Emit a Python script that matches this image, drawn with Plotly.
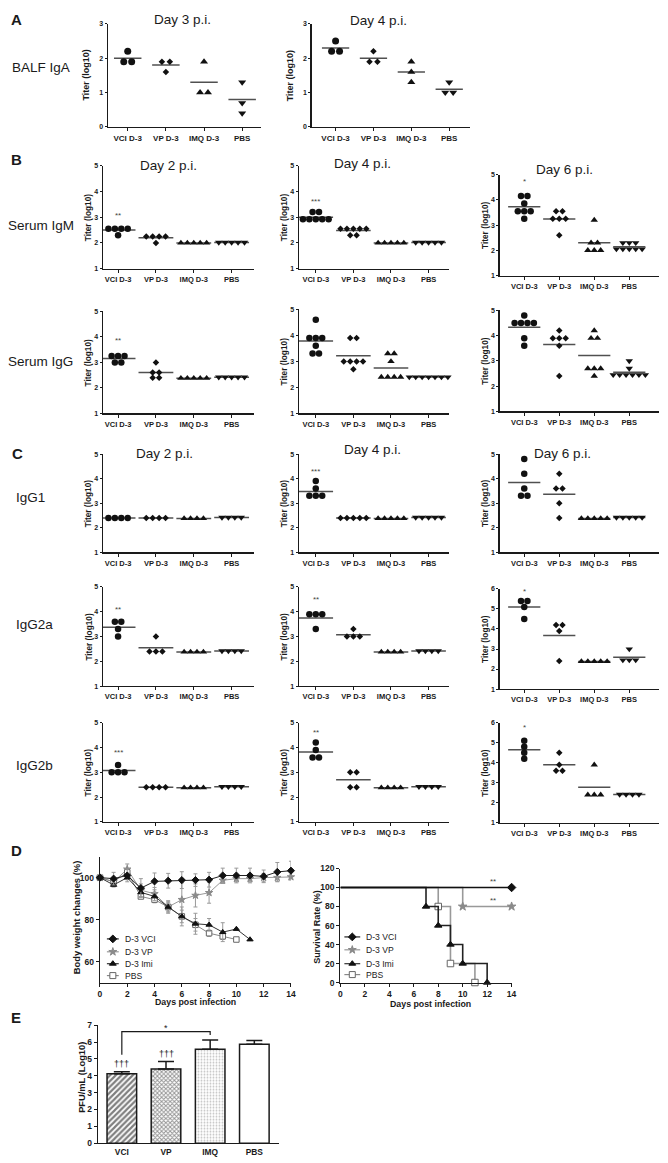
import numpy as np
import plotly.graph_objects as go

W, H = 668, 1163
SANS = "Liberation Sans, Arial, Helvetica, sans-serif"
INK = "#1a1a1a"

# ---------------- data ----------------
GROUPS = ["VCI D-3", "VP D-3", "IMQ D-3", "PBS"]
SYMBOLS = ["circle", "diamond", "triangle-up", "triangle-down"]

# A: BALF IgA titer (log10)
BALF_D3 = [[2.2, 1.9, 1.9], [1.9, 1.9, 1.6], [1.9, 1.0, 1.0], [1.3, 0.7, 0.4]]
BALF_D4 = [[2.5, 2.2, 2.2], [2.2, 1.9, 1.9], [1.9, 1.6, 1.3], [1.3, 1.0, 1.0]]

# B: serum IgM / IgG titer (log10)
IGM_D2 = [[2.55, 2.55, 2.55, 2.55, 2.3], [2.25, 2.25, 2.25, 2.25, 2.0],
          [2.0, 2.0, 2.0, 2.0, 2.0], [2.02, 2.02, 2.02, 2.02, 2.02]]
IGM_D4 = [[3.2, 3.2, 2.92, 2.92, 2.92, 2.92, 2.92], [2.55, 2.55, 2.55, 2.55, 2.55, 2.3, 2.3],
          [2.0, 2.0, 2.0, 2.0, 2.0], [2.02, 2.02, 2.02, 2.02, 2.02]]
IGM_D6 = [[4.15, 4.15, 3.85, 3.55, 3.55, 3.55, 3.25], [3.55, 3.55, 3.25, 3.25, 3.25, 2.6],
          [3.2, 2.3, 2.3, 2.0, 2.0, 2.0], [2.3, 2.3, 2.3, 2.05, 2.05, 2.05, 2.05, 2.05]]
IGG_D2 = [[3.25, 3.25, 3.25, 3.0, 3.0], [3.0, 2.6, 2.6, 2.4, 2.4],
          [2.38, 2.38, 2.38, 2.38, 2.38], [2.42, 2.42, 2.42, 2.42, 2.42]]
IGG_D4 = [[4.6, 3.9, 3.9, 3.9, 3.6, 3.3, 3.3], [3.9, 3.9, 3.0, 3.0, 3.0, 3.0, 2.7],
          [3.3, 3.3, 3.0, 2.4, 2.4, 2.4, 2.4], [2.4, 2.4, 2.4, 2.4, 2.4, 2.4, 2.4]]
IGG_D6 = [[4.8, 4.5, 4.5, 4.5, 4.5, 3.9, 3.6], [4.2, 3.9, 3.9, 3.9, 3.6, 2.4],
          [4.2, 3.9, 3.9, 2.7, 2.7, 2.7, 2.4], [3.0, 2.7, 2.45, 2.45, 2.45, 2.45, 2.45, 2.45]]

# C: IgG subclasses titer (log10)
IGG1_D2 = [[2.4, 2.4, 2.4, 2.4], [2.4, 2.4, 2.4, 2.4], [2.38, 2.38, 2.38, 2.38], [2.42, 2.42, 2.42, 2.42]]
IGG1_D4 = [[3.9, 3.6, 3.3, 3.3, 3.3], [2.4, 2.4, 2.4, 2.4, 2.4],
           [2.38, 2.38, 2.38, 2.38, 2.38], [2.42, 2.42, 2.42, 2.42, 2.42]]
IGG1_D6 = [[4.8, 4.2, 3.6, 3.3, 3.3], [4.2, 3.6, 3.6, 3.0, 2.4],
           [2.38, 2.38, 2.38, 2.38, 2.38], [2.42, 2.42, 2.42, 2.42, 2.42]]
IGG2A_D2 = [[3.6, 3.6, 3.3, 3.0], [3.0, 2.4, 2.4, 2.4], [2.38, 2.38, 2.38, 2.38], [2.42, 2.42, 2.42, 2.42]]
IGG2A_D4 = [[3.9, 3.9, 3.9, 3.3], [3.3, 3.0, 3.0, 3.0], [2.38, 2.38, 2.38, 2.38], [2.42, 2.42, 2.42, 2.42]]
IGG2A_D6 = [[5.4, 5.4, 5.1, 4.5], [4.2, 4.2, 3.9, 2.4], [2.38, 2.38, 2.38, 2.38, 2.38], [3.0, 2.45, 2.45, 2.45]]
IGG2B_D2 = [[3.3, 3.0, 3.0, 3.0], [2.4, 2.4, 2.4, 2.4], [2.38, 2.38, 2.38, 2.38], [2.42, 2.42, 2.42, 2.42]]
IGG2B_D4 = [[4.2, 3.9, 3.6, 3.6], [3.0, 3.0, 2.4, 2.4], [2.38, 2.38, 2.38, 2.38], [2.42, 2.42, 2.42, 2.42]]
IGG2B_D6 = [[5.1, 4.8, 4.5, 4.2], [4.5, 3.9, 3.6, 3.6], [3.9, 2.4, 2.4, 2.4], [2.42, 2.42, 2.42, 2.42]]

# significance marks above the VCI group (text, titer level)
IGM_SIG = [("**", 3.05), ("***", 3.62), ("*", 4.72)]
IGG_SIG = [("**", 3.85), ("*", 5.05), ("*", 5.1)]
IGG1_SIG = [None, ("***", 4.3), None]
IGG2A_SIG = [("**", 4.1), ("**", 4.5), ("*", 5.85)]
IGG2B_SIG = [("***", 3.8), ("**", 4.6), ("*", 5.75)]

# D: body weight (%) mean and SD
BW_DAYS = [0, 1, 2, 3, 4, 5, 6, 7, 8, 9, 10, 11, 12, 13, 14]
BW_VCI = [100, 99.5, 101, 95, 98.2, 98.5, 98.8, 98.8, 99, 101, 101, 101, 100.6, 102.7, 103.3]
BW_VCI_SD = [0, 3, 3, 4.5, 4, 3.5, 4, 3, 3.5, 3.5, 3.5, 3.5, 3, 4.5, 4.5]
BW_VP = [100, 98, 104, 94, 92.3, 86, 89.5, 91.5, 92.8, 98.7, 99.5, 99.5, 100, 100, 100.3]
BW_VP_SD = [0, 2, 2.5, 3, 3, 3, 8, 5.5, 5, 1.5, 1.5, 1.5, 2, 2, 1]
BW_IMI = [100, 96.5, 100, 93, 91, 86, 81.5, 78, 77.5, 74, 75.5, 70.5]
BW_IMI_SD = [0, 1, 1, 2, 2, 2.5, 4.5, 5, 3, 4.5, 0, 0]
BW_PBS = [100, 98, 102.5, 91, 89.5, 86, 81.5, 77.5, 73.5, 72, 70.5]
BW_PBS_SD = [0, 1, 1, 1, 1.5, 2, 3, 3, 1.5, 1.5, 0]

# D: survival (%)
SV_VCI_T, SV_VCI_S = [0, 14], [100, 100]
SV_VP_T, SV_VP_S = [0, 10, 14], [100, 80, 80]
SV_IMI_T, SV_IMI_S = [0, 7, 8, 9, 10, 12], [100, 80, 60, 40, 20, 0]
SV_PBS_T, SV_PBS_S = [0, 8, 9, 11], [100, 80, 20, 0]
SV_SIG = [("**", 12.5, 106), ("**", 12.5, 86)]
LEG_LABELS = ["D-3 VCI", "D-3 VP", "D-3 Imi", "PBS"]

# E: lung virus titer
E_GROUPS = ["VCI", "VP", "IMQ", "PBS"]
E_MEAN = [4.12, 4.4, 5.57, 5.87]
E_ERR = [0.12, 0.45, 0.55, 0.22]

# ---------------- helpers ----------------
fig = go.Figure()
layout = {}
ann = []
counter = [0]


def px(x):
    return x / W


def py(y):
    return 1 - y / H


def make_axes(x0, x1, ytop, ybot, xr, yr, xkw=None, ykw=None):
    counter[0] += 1
    n = counter[0]
    s = "" if n == 1 else str(n)
    base = dict(showline=True, linecolor=INK, linewidth=1.3, ticks="outside", ticklen=3,
                tickwidth=1, tickcolor=INK, showgrid=False, zeroline=False, fixedrange=True,
                tickfont=dict(family=SANS, size=7.5, color=INK, weight="bold"))
    xd = dict(base, domain=[px(x0), px(x1)], range=xr, anchor="y" + s)
    yd = dict(base, domain=[py(ybot), py(ytop)], range=yr, anchor="x" + s)
    if xkw:
        xd.update(xkw)
    if ykw:
        yd.update(ykw)
    layout["xaxis" + s] = xd
    layout["yaxis" + s] = yd
    return "x" + s, "y" + s


def text(t, x, y, size=12, bold=False, family=SANS, xanchor="center", angle=0, color=INK):
    ann.append(dict(text=("<b>%s</b>" % t) if bold else t, x=px(x), y=py(y), xref="paper",
                    yref="paper", showarrow=False, xanchor=xanchor, yanchor="middle",
                    textangle=angle, font=dict(family=family, size=size, color=color)))


def scatter_panel(data, col, row, sig=None, spacing=6.5, hw=0.46, sizes=(6.5, 5, 6.5, 6.5),
                  tdx=15, tsize=8.3, xfs=7.5):
    x0, x1, xr = col
    ytop, ybot, yr = row
    xref, yref = make_axes(
        x0, x1, ytop, ybot, xr, yr,
        xkw=dict(tickvals=list(range(len(GROUPS))), ticktext=GROUPS,
                 tickfont=dict(family=SANS, size=xfs, color=INK, weight="bold")),
        ykw=dict(tickvals=list(range(int(yr[0]), int(yr[1]) + 1)), ticklen=2,
                 tickfont=dict(family=SANS, size=7, color=INK, weight="bold")))
    unit = (x1 - x0) / (xr[1] - xr[0])
    dx = spacing / unit
    for gi, vals in enumerate(data):
        m = float(np.mean(vals))
        fig.add_trace(go.Scatter(x=[gi - hw, gi + hw], y=[m, m], mode="lines",
                                 line=dict(color="#505050", width=1.5), xaxis=xref, yaxis=yref,
                                 showlegend=False, hoverinfo="skip"))
        levels = {}
        for v in vals:
            levels.setdefault(round(v * 20), []).append(v)
        xs, ys = [], []
        for vs in levels.values():
            c = len(vs)
            for k, v in enumerate(vs):
                xs.append(gi + (k - (c - 1) / 2) * dx)
                ys.append(v)
        fig.add_trace(go.Scatter(x=xs, y=ys, mode="markers", cliponaxis=False,
                                 marker=dict(symbol=SYMBOLS[gi], size=sizes[gi], color="#111",
                                             line=dict(width=0)),
                                 xaxis=xref, yaxis=yref, showlegend=False, hoverinfo="skip"))
    if sig:
        ann.append(dict(text=sig[0], x=0, y=sig[1], xref=xref, yref=yref, showarrow=False,
                        font=dict(family=SANS, size=8, color="#444")))
    text("Titer (log10)", x0 - tdx, (ytop + ybot) / 2, size=tsize, bold=True, angle=-90)


# ---------------- layout geometry ----------------
COLA = [(107, 262, [-0.52, 3.5]), (313, 473, [-0.63, 3.55])]
ROWA = (19, 123, [0, 3])
COLS = [(102, 255, [-0.4, 3.6]), (300, 452, [-0.45, 3.55]), (503, 664, [-0.7, 3.85])]
ROW_IGM = [(162, 266, [1, 5]), (162, 266, [1, 5]), (171, 273, [1, 5])]
ROW_IGG = [(309, 412, [1, 5]), (307, 412, [1, 5]), (308, 410, [1, 5])]
ROW_IGG1 = [(453, 552, [1, 5]), (453, 552, [1, 5]), (453, 552, [1, 5])]
ROW_IGG2A = [(587, 687, [1, 5]), (587, 687, [1, 5]), (589, 690, [1, 6])]
ROW_IGG2B = [(724, 824, [1, 5]), (724, 824, [1, 5]), (724, 825, [1, 6])]

# A
for d, c in zip([BALF_D3, BALF_D4], COLA):
    scatter_panel(d, c, ROWA, spacing=8, hw=0.36, sizes=(7, 5, 7, 7), tdx=22, tsize=9, xfs=8)
# B
for i, d in enumerate([IGM_D2, IGM_D4, IGM_D6]):
    scatter_panel(d, COLS[i], ROW_IGM[i], IGM_SIG[i])
for i, d in enumerate([IGG_D2, IGG_D4, IGG_D6]):
    scatter_panel(d, COLS[i], ROW_IGG[i], IGG_SIG[i])
# C
for i, d in enumerate([IGG1_D2, IGG1_D4, IGG1_D6]):
    scatter_panel(d, COLS[i], ROW_IGG1[i], IGG1_SIG[i])
for i, d in enumerate([IGG2A_D2, IGG2A_D4, IGG2A_D6]):
    scatter_panel(d, COLS[i], ROW_IGG2A[i], IGG2A_SIG[i])
for i, d in enumerate([IGG2B_D2, IGG2B_D4, IGG2B_D6]):
    scatter_panel(d, COLS[i], ROW_IGG2B[i], IGG2B_SIG[i])

# D styles: (fill colour, symbol, size, line colour, marker outline colour)
BW_STYLE = [("#111", "diamond", 5.5, "#222", "#111"), ("#8a8a8a", "star", 5.5, "#999", "#8a8a8a"),
            ("#111", "triangle-up", 5.5, "#333", "#111"), ("white", "square", 5.5, "#888", "#666")]
dfont = dict(family=SANS, size=8.5, color=INK, weight="bold")

# D left: body weight
xr_, yr_ = make_axes(99, 292, 859, 986, [0, 14], [50, 110],
                     xkw=dict(tickvals=list(range(0, 15, 2)), tickfont=dfont),
                     ykw=dict(tickvals=[60, 80, 100], tickfont=dfont))
bw_series = [(BW_VCI, BW_VCI_SD), (BW_VP, BW_VP_SD), (BW_IMI, BW_IMI_SD), (BW_PBS, BW_PBS_SD)]
for k in [1, 3, 2, 0]:
    vals, sd = bw_series[k]
    c, sym, sz, lc, oc = BW_STYLE[k]
    fig.add_trace(go.Scatter(
        x=BW_DAYS[:len(vals)], y=vals, mode="lines+markers", cliponaxis=False,
        line=dict(color=lc, width=1),
        marker=dict(symbol=sym, size=sz, color=c, line=dict(color=oc, width=1)),
        error_y=dict(type="data", array=sd, color="#9a9a9a", thickness=1, width=2),
        xaxis=xr_, yaxis=yr_, showlegend=False, hoverinfo="skip"))
text("Body weight changes (%)", 75, 920, size=9.4, bold=True, angle=-90)
text("Days post infection", 196, 1006, size=8.8, bold=True)

# D right: survival
xs_, ys_ = make_axes(342, 515, 871, 986, [0, 14], [0, 120],
                     xkw=dict(tickvals=list(range(0, 15, 2)), tickfont=dfont),
                     ykw=dict(tickvals=list(range(0, 121, 20)), tickfont=dfont))
sv_series = [(SV_VCI_T, SV_VCI_S), (SV_VP_T, SV_VP_S), (SV_IMI_T, SV_IMI_S), (SV_PBS_T, SV_PBS_S)]
SV_LINE = ["#111", "#999", "#222", "#999"]
for k in [3, 1, 2, 0]:
    t, s = sv_series[k]
    c, sym, sz, lc, oc = BW_STYLE[k]
    fig.add_trace(go.Scatter(x=t, y=s, mode="lines", line=dict(color=SV_LINE[k], width=1.6, shape="hv"),
                             xaxis=xs_, yaxis=ys_, showlegend=False, hoverinfo="skip", cliponaxis=False))
    fig.add_trace(go.Scatter(x=t[1:], y=s[1:], mode="markers", cliponaxis=False,
                             marker=dict(symbol=sym, size=sz + 1, color=c, line=dict(color=oc, width=1)),
                             xaxis=xs_, yaxis=ys_, showlegend=False, hoverinfo="skip"))
for t, xv, yv in SV_SIG:
    ann.append(dict(text=t, x=xv, y=yv, xref=xs_, yref=ys_, showarrow=False,
                    font=dict(family=SANS, size=8, color="#444")))
text("Survival Rate (%)", 318, 930, size=9, bold=True, angle=-90)
text("Days post infection", 433, 1008, size=8.8, bold=True)

# E: bar chart
xe_, ye_ = make_axes(97, 280, 1029, 1148, [-0.54, 3.56], [0, 7],
                     xkw=dict(tickvals=[0, 1, 2, 3], ticktext=E_GROUPS, ticks="",
                              tickfont=dict(family=SANS, size=8.4, color=INK, weight="bold")),
                     ykw=dict(tickvals=list(range(0, 8)), tickfont=dfont))
fig.add_trace(go.Bar(
    x=[0, 1, 2, 3], y=E_MEAN, width=0.67, xaxis=xe_, yaxis=ye_, showlegend=False, hoverinfo="skip",
    marker=dict(color="white", line=dict(color=INK, width=1.5),
                pattern=dict(shape=["/", "x", ".", ""], fgcolor=["#000", "#2a2a2a", "#8a8a8a", "#fff"],
                             bgcolor="white", size=[4, 3, 3, 6], solidity=[0.55, 0.55, 0.3, 0.2])),
    error_y=dict(type="data", symmetric=False, array=E_ERR, arrayminus=[0, 0, 0, 0],
                 color=INK, thickness=1.5, width=8)))
tops = [m + e for m, e in zip(E_MEAN, E_ERR)]
br_top = max(tops) + 0.5
fig.add_trace(go.Scatter(x=[0, 0, 2, 2], y=[tops[0] + 1.0, br_top, br_top, br_top - 0.2], mode="lines",
                         line=dict(color=INK, width=1.2), xaxis=xe_, yaxis=ye_, showlegend=False,
                         hoverinfo="skip"))
ann.append(dict(text="*", x=1, y=br_top + 0.2, xref=xe_, yref=ye_, showarrow=False,
                font=dict(family=SANS, size=9, color=INK)))
for i in [0, 1]:
    ann.append(dict(text="\u2020\u2020\u2020", x=i, y=tops[i] + 0.45, xref=xe_, yref=ye_, showarrow=False,
                    font=dict(family=SANS, size=9, color=INK)))
text("PFU/mL (Log10)", 81, 1082, size=9.3, bold=True, angle=-90)

# manual legends for D (pixel overlay axis)
xo_, yo_ = make_axes(0, W, 0, H, [0, W], [H, 0],
                     xkw=dict(visible=False), ykw=dict(visible=False))
LEG_POS = [(106, 118, [942, 955, 967, 979]), (346, 362, [940, 953, 967, 978])]
for (lx0, lx1, ys) in LEG_POS:
    for k in range(4):
        c, sym, sz, lc, oc = BW_STYLE[k]
        fig.add_trace(go.Scatter(x=[lx0, lx1], y=[ys[k], ys[k]], mode="lines",
                                 line=dict(color=lc, width=1.2), xaxis=xo_, yaxis=yo_,
                                 showlegend=False, hoverinfo="skip"))
        fig.add_trace(go.Scatter(x=[(lx0 + lx1) / 2], y=[ys[k]], mode="markers",
                                 marker=dict(symbol=sym, size=sz + 0.5, color=c, line=dict(color=oc, width=1)),
                                 xaxis=xo_, yaxis=yo_, showlegend=False, hoverinfo="skip"))
        text(LEG_LABELS[k], lx1 + 4, ys[k], size=8.6, xanchor="left", color="#222")

# ---------------- text labels ----------------
for t, x, y in [("Day 3 p.i.", 182, 15), ("Day 4 p.i.", 380, 16),
                ("Day 2 p.i.", 168, 162), ("Day 4 p.i.", 364, 160), ("Day 6 p.i.", 568, 166),
                ("Day 2 p.i.", 164, 452), ("Day 4 p.i.", 374, 448), ("Day 6 p.i.", 566, 452)]:
    text(t, x, y, size=13.5)
for t, x, y in [("BALF IgA", 8, 63), ("Serum IgM", 4, 222), ("Serum IgG", 4, 360),
                ("IgG1", 12, 497), ("IgG2a", 12, 625), ("IgG2b", 12, 767)]:
    text(t, x, y, size=13.5, xanchor="left")
for t, x, y in [("A", 7, 15), ("B", 7, 156), ("C", 8, 452), ("D", 7, 853), ("E", 7, 1021)]:
    text(t, x, y, size=15, bold=True, xanchor="left")

layout.update(dict(width=W, height=H, margin=dict(l=0, r=0, t=0, b=0), paper_bgcolor="white",
                   plot_bgcolor="rgba(0,0,0,0)", showlegend=False, annotations=ann,
                   font=dict(family=SANS, color=INK)))
fig.update_layout(**layout)
fig.write_html("out.html", config={"displayModeBar": False, "staticPlot": True},
               post_script="document.body.style.margin='0px';document.body.style.overflow='hidden';")
